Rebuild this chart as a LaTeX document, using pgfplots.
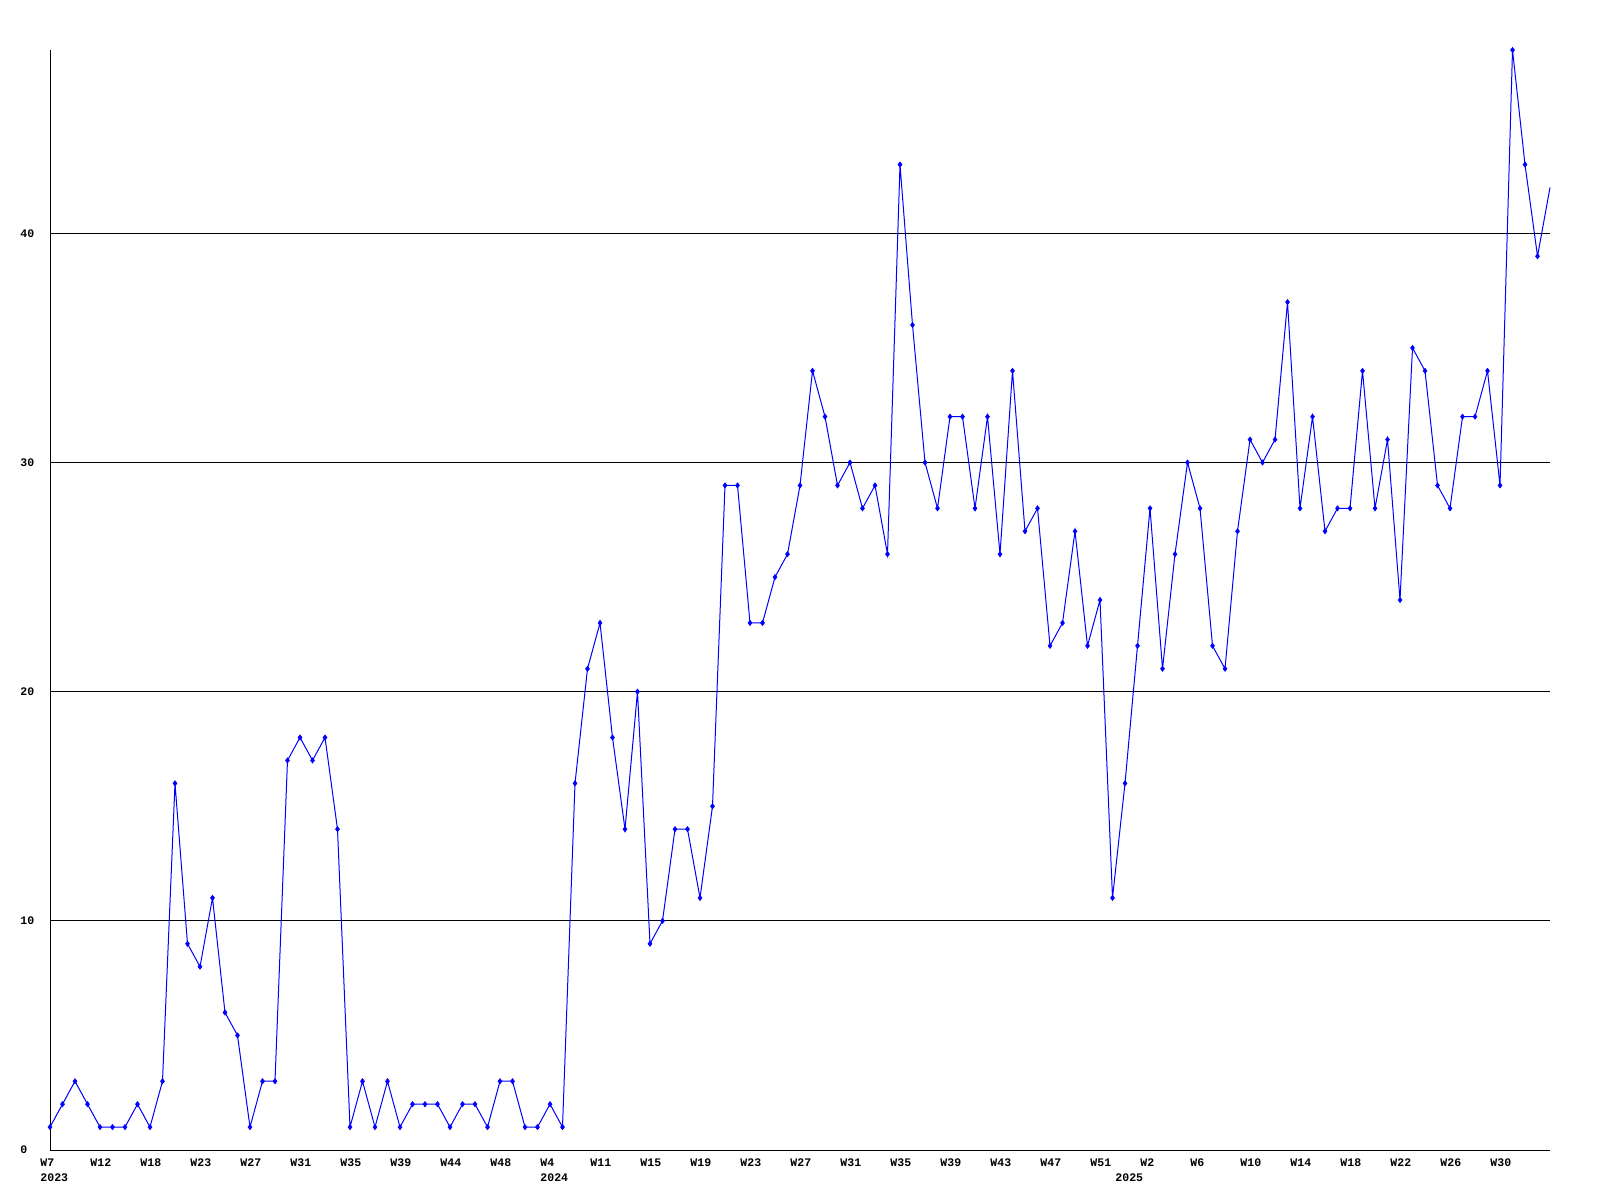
\documentclass[border=0pt]{standalone}
\usepackage{pgfplots}
\pgfplotsset{compat=1.18}
\usepackage{fontspec}
\setmonofont{Liberation Mono}
\newcommand{\lbl}{\ttfamily\bfseries\fontsize{5.8}{7.5}\selectfont}
\pgfplotstableread{
x y
0 1
1 2
2 3
3 2
4 1
5 1
6 1
7 2
8 1
9 3
10 16
11 9
12 8
13 11
14 6
15 5
16 1
17 3
18 3
19 17
20 18
21 17
22 18
23 14
24 1
25 3
26 1
27 3
28 1
29 2
30 2
31 2
32 1
33 2
34 2
35 1
36 3
37 3
38 1
39 1
40 2
41 1
42 16
43 21
44 23
45 18
46 14
47 20
48 9
49 10
50 14
51 14
52 11
53 15
54 29
55 29
56 23
57 23
58 25
59 26
60 29
61 34
62 32
63 29
64 30
65 28
66 29
67 26
68 43
69 36
70 30
71 28
72 32
73 32
74 28
75 32
76 26
77 34
78 27
79 28
80 22
81 23
82 27
83 22
84 24
85 11
86 16
87 22
88 28
89 21
90 26
91 30
92 28
93 22
94 21
95 27
96 31
97 30
98 31
99 37
100 28
101 32
102 27
103 28
104 28
105 34
106 28
107 31
108 24
109 35
110 34
111 29
112 28
113 32
114 32
115 34
116 29
117 48
118 43
119 39
120 42
}\datatable
\usepackage{pgfplotstable}
\begin{document}
\begin{tikzpicture}[x=1bp,y=1bp]
\useasboundingbox (-25bp,-25bp) rectangle (775bp,575bp);
\begin{axis}[
  at={(0,0)}, anchor=origin,
  scale only axis, width=750bp, height=550bp,
  xmin=0, xmax=120, ymin=0, ymax=48,
  axis x line=bottom, axis y line=left,
  axis line style={-, black, line width=0.5bp},
  major tick length=0pt,
  ytick={0,10,20,30,40}, yticklabels={0,10,20,30,40},
  ymajorgrids, grid style={black, line width=0.5bp},
  xtick={0,4,...,116},
  xticklabels={W7,W12,W18,W23,W27,W31,W35,W39,W44,W48,W4,W11,W15,W19,W23,W27,W31,W35,W39,W43,W47,W51,W2,W6,W10,W14,W18,W22,W26,W30},
  xticklabel style={anchor=north west, inner sep=0pt, xshift=-5bp, yshift=-4bp, font=\lbl},
  yticklabel style={anchor=west, inner sep=0pt, xshift=-15bp, font=\lbl},
  clip=false,
]
\addplot[blue, line width=0.5bp, mark=none] table {\datatable};
\addplot[blue, only marks, mark=diamond*, mark size=1.3bp, mark options={fill=blue, draw=blue, line width=0.3bp}, restrict x to domain=0:119] table {\datatable};
\node[anchor=north west, inner sep=0pt, font=\lbl] at ([xshift=-5bp, yshift=-11.5bp]axis cs:0,0) {2023};
\node[anchor=north west, inner sep=0pt, font=\lbl] at ([xshift=-5bp, yshift=-11.5bp]axis cs:40,0) {2024};
\node[anchor=north west, inner sep=0pt, font=\lbl] at ([xshift=-5bp, yshift=-11.5bp]axis cs:86,0) {2025};
\end{axis}
\end{tikzpicture}
\end{document}
